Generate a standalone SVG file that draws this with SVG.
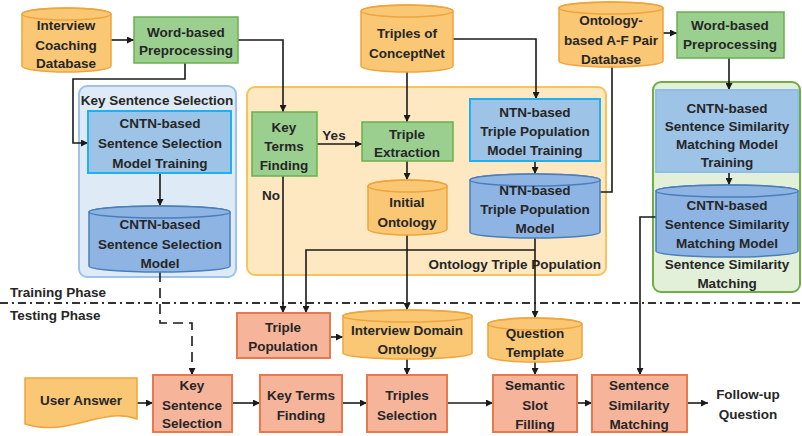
<svg xmlns="http://www.w3.org/2000/svg" width="802" height="436" viewBox="0 0 802 436">
<defs>
<marker id="ah" viewBox="0 0 8 8" refX="8" refY="4" markerWidth="7" markerHeight="7" markerUnits="userSpaceOnUse" orient="auto">
<path d="M0,0 L8,4 L0,8 z" fill="#1a1a1a"/>
</marker>
<style>
text{font-family:"Liberation Sans",Arial,sans-serif;font-weight:bold;font-size:13.5px;fill:#262626;text-anchor:middle}
.lab{text-anchor:start}
.orange{fill:#fac775;stroke:#f0a43a;stroke-width:1.5}
.rim{fill:none}
.green{fill:#9bcf8f;stroke:#6ab04c;stroke-width:1.5}
.btrain{fill:#9dc3e6;stroke:#1fb0f0;stroke-width:2}
.bcyl{fill:#8eb4e3;stroke:#4a7ebb;stroke-width:1.5}
.salmon{fill:#f6b49a;stroke:#e8794e;stroke-width:2}
.gblue{fill:#deebf7;stroke:#9dc3e6;stroke-width:2}
.gyellow{fill:#fde8c1;stroke:#f8c35a;stroke-width:2}
.ggreen{fill:#e2f0d9;stroke:#70ad47;stroke-width:2}
.c{fill:none;stroke:#1a1a1a;stroke-width:1.6}
.arr{marker-end:url(#ah)}
.dash{stroke-dasharray:10 6}
.phase{fill:none;stroke:#333;stroke-width:2;stroke-dasharray:8 4 2 4}
</style>
</defs>
<rect width="802" height="436" fill="#ffffff"/>

<!-- containers -->
<g id="grp-key-sentence-selection">
<rect class="gblue" x="79" y="86" width="157" height="191" rx="8"/>
<text x="157" y="105">Key Sentence Selection</text>
</g>
<g id="grp-ontology-triple-population">
<rect class="gyellow" x="247" y="87" width="359" height="188" rx="8"/>
<text x="601" y="269" style="text-anchor:end">Ontology Triple Population</text>
</g>
<g id="grp-sentence-similarity-matching">
<rect class="ggreen" x="653" y="82" width="147" height="210" rx="8"/>
<text x="727" y="269">Sentence Similarity</text>
<text x="727" y="288">Matching</text>
</g>

<!-- phase separator -->
<g id="phase">
<line class="phase" x1="0" y1="303" x2="802" y2="303"/>
<text class="lab" x="10" y="297">Training Phase</text>
<text class="lab" x="10" y="320">Testing Phase</text>
</g>

<!-- connectors -->
<g id="connectors">
<path class="c arr" d="M111,40 H134"/>
<path class="c arr" d="M238,40 H283 V112"/>
<path class="c arr" d="M185,63 V79 H73 V143 H88"/>
<path class="c arr" d="M160,173 V206"/>
<path class="c arr dash" d="M160,272 V323 H192 V375"/>
<path class="c arr" d="M317,144 H362"/>
<path class="c arr" d="M407,72 V122"/>
<path class="c arr" d="M453,39 H536 V99"/>
<path class="c arr" d="M407,161 V180"/>
<path class="c arr" d="M535,161 V174"/>
<path class="c" d="M612,67 V192 H600"/>
<path class="c arr" d="M663,33 H677"/>
<path class="c arr" d="M729,58 V90"/>
<path class="c arr" d="M729,172 V185"/>
<path class="c arr" d="M656,217 H640 V375"/>
<path class="c arr" d="M283,176 V313"/>
<path class="c arr" d="M535,238 V318"/>
<path class="c arr" d="M535,250 H306 V313"/>
<path class="c arr" d="M407,235 V310"/>
<path class="c arr" d="M330,337 H343"/>
<path class="c arr" d="M407,359 V375"/>
<path class="c arr" d="M535,362 V375"/>
<path class="c arr" d="M137,403 H153"/>
<path class="c arr" d="M232,403 H260"/>
<path class="c arr" d="M342,403 H367"/>
<path class="c arr" d="M447,403 H493"/>
<path class="c arr" d="M577,403 H592"/>
<path class="c arr" d="M687,403 H708"/>
<text x="334" y="140">Yes</text>
<text x="271" y="200">No</text>
</g>

<!-- nodes -->
<g id="interview-coaching-db">
<path class="orange" d="M22,14 A44.5,6 0 0 1 111,14 V66 A44.5,6 0 0 1 22,66 Z"/>
<ellipse class="orange rim" cx="66.5" cy="14" rx="44.5" ry="6"/>
<text x="66" y="30">Interview</text>
<text x="66" y="50">Coaching</text>
<text x="66" y="68">Database</text>
</g>
<g id="word-preprocessing-1">
<rect class="green" x="134" y="17" width="104" height="46"/>
<text x="186" y="37">Word-based</text>
<text x="186" y="55">Preprocessing</text>
</g>
<g id="cntn-ss-training">
<rect class="btrain" x="88" y="111" width="143" height="62"/>
<text x="160" y="128">CNTN-based</text>
<text x="160" y="148">Sentence Selection</text>
<text x="160" y="168">Model Training</text>
</g>
<g id="cntn-ss-model">
<path class="bcyl" d="M89,212 A70.5,6 0 0 1 230,212 V266 A70.5,6 0 0 1 89,266 Z"/>
<ellipse class="bcyl rim" cx="159.5" cy="212" rx="70.5" ry="6"/>
<text x="160" y="229">CNTN-based</text>
<text x="160" y="249">Sentence Selection</text>
<text x="160" y="268">Model</text>
</g>
<g id="key-terms-finding-train">
<rect class="green" x="252" y="112" width="65" height="64"/>
<text x="284" y="132">Key</text>
<text x="284" y="151">Terms</text>
<text x="284" y="170">Finding</text>
</g>
<g id="triples-conceptnet">
<path class="orange" d="M361,11 A46,6 0 0 1 453,11 V66 A46,6 0 0 1 361,66 Z"/>
<ellipse class="orange rim" cx="407" cy="11" rx="46" ry="6"/>
<text x="407" y="38">Triples of</text>
<text x="407" y="58">ConceptNet</text>
</g>
<g id="triple-extraction">
<rect class="green" x="362" y="122" width="91" height="39"/>
<text x="407" y="139">Triple</text>
<text x="407" y="157">Extraction</text>
</g>
<g id="initial-ontology">
<path class="orange" d="M368,186 A39.5,6 0 0 1 447,186 V229 A39.5,6 0 0 1 368,229 Z"/>
<ellipse class="orange rim" cx="407.5" cy="186" rx="39.5" ry="6"/>
<text x="407" y="207">Initial</text>
<text x="407" y="227">Ontology</text>
</g>
<g id="ntn-training">
<rect class="btrain" x="470" y="99" width="130" height="62"/>
<text x="535" y="117">NTN-based</text>
<text x="535" y="136">Triple Population</text>
<text x="535" y="155">Model Training</text>
</g>
<g id="ntn-model">
<path class="bcyl" d="M470,180 A65,6 0 0 1 600,180 V232 A65,6 0 0 1 470,232 Z"/>
<ellipse class="bcyl rim" cx="535" cy="180" rx="65" ry="6"/>
<text x="535" y="195">NTN-based</text>
<text x="535" y="214">Triple Population</text>
<text x="535" y="233">Model</text>
</g>
<g id="ontology-af-db">
<path class="orange" d="M559,8 A52,6 0 0 1 663,8 V61 A52,6 0 0 1 559,61 Z"/>
<ellipse class="orange rim" cx="611" cy="8" rx="52" ry="6"/>
<text x="611" y="25">Ontology-</text>
<text x="611" y="45">based A-F Pair</text>
<text x="611" y="64">Database</text>
</g>
<g id="word-preprocessing-2">
<rect class="green" x="677" y="12" width="107" height="46"/>
<text x="730" y="30">Word-based</text>
<text x="730" y="49">Preprocessing</text>
</g>
<g id="cntn-ssm-training">
<rect class="btrain" x="656" y="90" width="142" height="82" style="stroke:#8fbde6"/>
<text x="727" y="113">CNTN-based</text>
<text x="727" y="131">Sentence Similarity</text>
<text x="727" y="149">Matching Model</text>
<text x="727" y="167">Training</text>
</g>
<g id="cntn-ssm-model">
<path class="bcyl" d="M656,191 A71,6 0 0 1 798,191 V251 A71,6 0 0 1 656,251 Z"/>
<ellipse class="bcyl rim" cx="727" cy="191" rx="71" ry="6"/>
<text x="727" y="210">CNTN-based</text>
<text x="727" y="229">Sentence Similarity</text>
<text x="727" y="248">Matching Model</text>
</g>
<g id="triple-population">
<rect class="salmon" x="237" y="313" width="93" height="45"/>
<text x="283" y="332">Triple</text>
<text x="283" y="351">Population</text>
</g>
<g id="interview-domain-ontology">
<path class="orange" d="M343,316 A64.5,6 0 0 1 472,316 V353 A64.5,6 0 0 1 343,353 Z"/>
<ellipse class="orange rim" cx="407.5" cy="316" rx="64.5" ry="6"/>
<text x="407" y="335">Interview Domain</text>
<text x="407" y="354">Ontology</text>
</g>
<g id="question-template">
<path class="orange" d="M488,324 A47,6 0 0 1 582,324 V356 A47,6 0 0 1 488,356 Z"/>
<ellipse class="orange rim" cx="535" cy="324" rx="47" ry="6"/>
<text x="535" y="338">Question</text>
<text x="535" y="357">Template</text>
</g>
<g id="user-answer">
<path class="orange" d="M25,378 H137 V419 C100,406 70,438 25,424 Z"/>
<text x="81" y="405">User Answer</text>
</g>
<g id="key-sentence-selection">
<rect class="salmon" x="153" y="375" width="79" height="57"/>
<text x="192" y="390">Key</text>
<text x="192" y="410">Sentence</text>
<text x="192" y="428">Selection</text>
</g>
<g id="key-terms-finding">
<rect class="salmon" x="260" y="375" width="82" height="57"/>
<text x="301" y="400">Key Terms</text>
<text x="301" y="420">Finding</text>
</g>
<g id="triples-selection">
<rect class="salmon" x="367" y="375" width="80" height="57"/>
<text x="407" y="400">Triples</text>
<text x="407" y="420">Selection</text>
</g>
<g id="semantic-slot-filling">
<rect class="salmon" x="493" y="375" width="84" height="57"/>
<text x="535" y="390">Semantic</text>
<text x="535" y="410">Slot</text>
<text x="535" y="429">Filling</text>
</g>
<g id="sentence-similarity-matching">
<rect class="salmon" x="592" y="375" width="95" height="57"/>
<text x="639" y="390">Sentence</text>
<text x="639" y="410">Similarity</text>
<text x="639" y="429">Matching</text>
</g>
<g id="follow-up-question">
<text x="748" y="399">Follow-up</text>
<text x="748" y="419">Question</text>
</g>
</svg>
